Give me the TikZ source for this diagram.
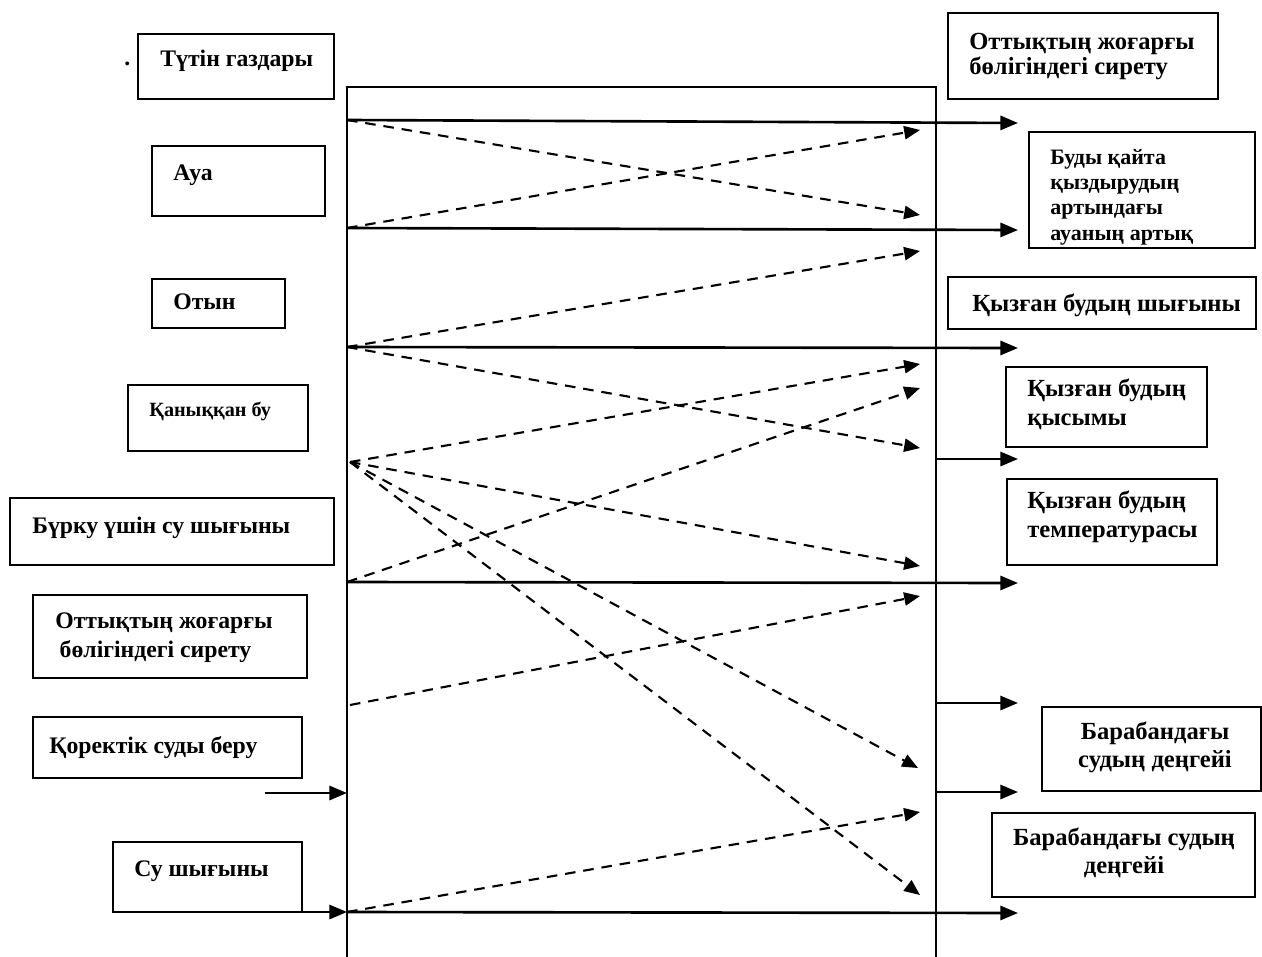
\documentclass[tikz,border=0pt]{standalone}
\usepackage{fontspec}
\setmainfont{Liberation Serif}
\usetikzlibrary{arrows.meta}
\tikzset{
  box/.style={line width=1pt},
  frame/.style={line width=1.6pt},
  lbl/.style={font=\bfseries\fontsize{13.5}{16}\selectfont, inner sep=0pt, anchor=base west, align=left},
  rlbl/.style={lbl, font=\bfseries\fontsize{14}{14.2}\selectfont},
  flow/.style={line width=1.5pt, -{Triangle[length=10pt,width=8pt]}},
  cross/.style={line width=1.2pt, dash pattern=on 6pt off 4.5pt, -{Triangle[length=9pt,width=7.5pt]}},
}
\begin{document}
\begin{tikzpicture}[x=0.02cm, y=-0.02cm]
    \useasboundingbox (0,0) rectangle (1262,957);

    % Left boxes
    \node[lbl] (dot) at (124,65) {.};
    \draw[box] (138,34) rectangle (334,99);
    \node[lbl] (tutin) at (160,66) {Түтін газдары};
    \draw[box] (152,146) rectangle (325,216);
    \node[lbl] (aua) at (173,180) {Ауа};
    \draw[box] (152,279) rectangle (285,328);
    \node[lbl] (otyn) at (173,309) {Отын};
    \draw[box] (128,385) rectangle (308,451);
    \node[lbl, font=\bfseries\fontsize{11.5}{14}\selectfont] (qanyq) at (149,416) {Қаныққан бу};
    \draw[box] (10,498) rectangle (334,565);
    \node[lbl] (burku) at (32,533) {Бүрку үшін су шығыны};
    \draw[box] (33,595) rectangle (307,678);
    \node[lbl] (siretuL) at (55,657) {Оттықтың жоғарғы\\\hspace{2.5pt}бөлігіндегі сирету};
    \draw[box] (33,717) rectangle (302,778);
    \node[lbl] (korek) at (49,753) {Қоректік суды беру};
    \draw[box] (113,842) rectangle (302,912);
    \node[lbl] (su) at (134,876) {Су шығыны};

    % Right boxes
    \draw[box] (948,13) rectangle (1218,99);
    \node[rlbl] (siretuR) at (969,74) {Оттықтың жоғарғы\\бөлігіндегі сирету};
    \draw[box] (1029,132) rectangle (1255,248);
    \node[lbl, font=\bfseries\fontsize{12.5}{14.3}\selectfont] (qaita) at (1050,240)
        {Буды қайта\\қыздырудың\\артындағы\\ауаның артық};
    \draw[box] (948,277) rectangle (1256,329);
    \node[rlbl] (shygyn) at (972,311) {Қызған будың шығыны};
    \draw[box] (1006,367) rectangle (1207,447);
    \node[rlbl, font=\bfseries\fontsize{14}{16}\selectfont] (qysym) at (1027,425) {Қызған будың\\қысымы};
    \draw[box] (1007,479) rectangle (1217,565);
    \node[rlbl, font=\bfseries\fontsize{14}{16.5}\selectfont] (temp) at (1027,537) {Қызған будың\\температурасы};
    \draw[box] (1042,707) rectangle (1261,791);
    \node[rlbl, font=\bfseries\fontsize{14}{15.5}\selectfont, anchor=base, align=center] (deng1) at (1155,767) {Барабандағы\\судың деңгейі};
    \draw[box] (992,813) rectangle (1255,897);
    \node[rlbl, font=\bfseries\fontsize{14}{15.5}\selectfont, anchor=base, align=center] (deng2) at (1124,873) {Барабандағы судың\\деңгейі};

    % Frame
    \draw[frame] (347,957) -- (347,87) -- (936,87) -- (936,957);

    % Points on the frame
    \coordinate (a1) at (347,120);
    \coordinate (a2) at (347,228);
    \coordinate (a3) at (347,347);
    \coordinate (a4) at (350,462);
    \coordinate (a5) at (347,582);
    \coordinate (a6) at (350,705);
    \coordinate (a7) at (347,912);
    \coordinate (a8) at (347,793);
    \coordinate (r4) at (936,459);
    \coordinate (r6) at (936,703);
    \coordinate (r7) at (936,792);
    \coordinate (i7) at (265,912);
    \coordinate (i8) at (265,793);

    % Outputs
    \coordinate (o1) at (1018,123);
    \coordinate (o2) at (1018,230);
    \coordinate (o3) at (1018,348);
    \coordinate (o4) at (1018,459);
    \coordinate (o5) at (1018,583);
    \coordinate (o6) at (1018,703);
    \coordinate (o7) at (1018,792);
    \coordinate (o8) at (1018,913);

    % Dashed tips
    \coordinate (t1) at (920,130);
    \coordinate (t2) at (920,215);
    \coordinate (t3) at (920,251);
    \coordinate (t4) at (920,364);
    \coordinate (t5) at (920,388);
    \coordinate (t6) at (920,448);
    \coordinate (t7) at (920,566);
    \coordinate (t8) at (920,596);
    \coordinate (t9) at (918,768);
    \coordinate (t10) at (920,812);
    \coordinate (t11) at (920,895);

    % Solid flows
    \draw[flow] (a1) -- (o1);
    \draw[flow] (a2) -- (o2);
    \draw[flow] (a3) -- (o3);
    \draw[flow] (r4) -- (o4);
    \draw[flow] (a5) -- (o5);
    \draw[flow] (r6) -- (o6);
    \draw[flow] (r7) -- (o7);
    \draw[flow] (a7) -- (o8);
    \draw[flow] (i8) -- (a8);
    \draw[flow] (i7) -- (a7);

    % Dashed links
    \draw[cross] (a1) -- (t2);
    \draw[cross] (a2) -- (t1);
    \draw[cross] (a3) -- (t3);
    \draw[cross] (a3) -- (t6);
    \draw[cross] (a4) -- (t4);
    \draw[cross] (a4) -- (t7);
    \draw[cross] (a4) -- (t9);
    \draw[cross] (a4) -- (t11);
    \draw[cross] (a5) -- (t5);
    \draw[cross] (a6) -- (t8);
    \draw[cross] (a7) -- (t10);
\end{tikzpicture}
\end{document}
